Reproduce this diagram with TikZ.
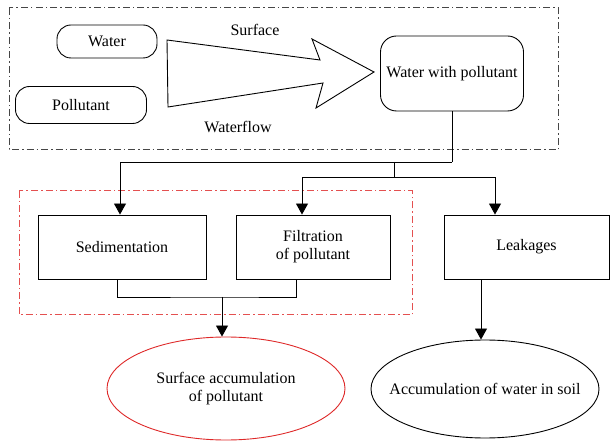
\documentclass[tikz,border=0pt]{standalone}
\usepackage{fontspec}
\setmainfont{Liberation Serif}
\usepackage{tikz}
\usetikzlibrary{arrows.meta, positioning, shapes.geometric}

\tikzset{
	roundbox/.style={draw, line width=0.9pt, rounded corners=14pt, minimum width=#1, inner sep=0pt},
	stagebox/.style={draw, line width=0.9pt, minimum height=64pt, inner sep=0pt, align=center},
	endell/.style={draw, ellipse, line width=0.9pt, inner sep=0pt, align=center},
	link/.style={line width=0.9pt},
	arr/.style={link, -{Triangle[width=12pt,length=11pt]}},
	dashdot/.style={line width=1pt, dash pattern=on 7pt off 3pt on 1.5pt off 3pt}
}
\definecolor{groupred}{RGB}{228,80,80}
\definecolor{ellred}{RGB}{222,40,40}
\definecolor{groupgray}{RGB}{70,70,70}

\begin{document}
\begin{tikzpicture}[x=1pt, y=-1pt, font=\fontsize{16}{18}\selectfont]

	\useasboundingbox (0,0) rectangle (610,443);

	% Heights
	\def\tiph{72}

	% Input group
	\draw[dashdot, groupgray] (9,8) rectangle (558,150);
	\node[roundbox=100pt, minimum height=33pt] (water) at (107,41.5) {Water};
	\node[roundbox=131pt, minimum height=37pt] (pollutant) at (81,105) {Pollutant};

	% Big flow arrow
	\draw[line width=0.9pt, line join=miter] (167,40) -- (320,60) -- (312,39) -- (374,\tiph)
		-- (316,108) -- (323,83) -- (168,107) -- cycle;
	\node (surface) at (255,30) {Surface};
	\node (waterflow) at (238,127) {Waterflow};

	% Water with pollutant
	\node[roundbox=143pt, minimum height=75pt, rounded corners=16pt] (wwp) at (452,73.5) {Water with pollutant};

	% Treatment group
	\draw[dashdot, groupred] (19,191) rectangle (412,315);
	\node[stagebox, minimum width=168pt] (sed) at (122,247) {Sedimentation};
	\node[stagebox, minimum width=154pt] (filt) at (313,247) {Filtration\\of pollutant};
	\node[stagebox, minimum width=165pt] (leak) at (526.5,247) {Leakages};

	% Results
	\node[endell, ellred, text=black, minimum width=238pt, minimum height=103pt] (acc) at (226,388.5) {Surface accumulation\\of pollutant};
	\node[endell, inner xsep=-30pt, minimum width=228pt, minimum height=98pt] (soil) at (485,389) {Accumulation of water in soil};

	% Branching
	\coordinate (b1) at (452,162);
	\coordinate (b2) at (394,162);
	\coordinate (b3) at (394,177);
	\draw[link] (wwp.south) -- (b1);
	\draw[arr] (b1) -| ([xshift=-2pt]sed.north);
	\draw[link] (b2) -- (b3);
	\draw[arr] (b3) -| ([xshift=-11pt]filt.north);
	\draw[arr] (b3) -| ([xshift=-31.5pt]leak.north);

	% Merging
	\coordinate (m) at (222,297);
	\draw[link] ([xshift=-5pt]sed.south) |- (m) -| ([xshift=-17pt]filt.south);
	\draw[arr] (m) -- (m |- acc.north);
	\draw[arr] ([xshift=-4pt]soil.north |- leak.south) -- ([xshift=-4pt]soil.north);

\end{tikzpicture}
\end{document}
